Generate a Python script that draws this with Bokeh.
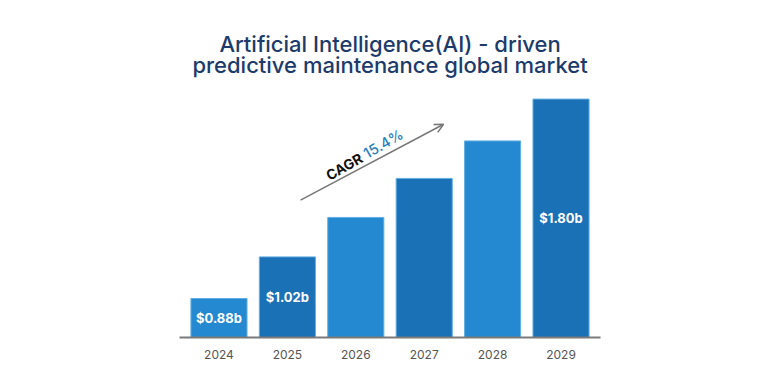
from bokeh.plotting import figure
from bokeh.models import Range1d, FixedTicker, Label, Arrow, OpenHead, ColumnDataSource
from bokeh.embed import file_html
from bokeh.resources import INLINE
from bokeh.core.properties import value
import math

# ---- data ----
years = ["2024", "2025", "2026", "2027", "2028", "2029"]
market = [0.88, 1.072, 1.254, 1.434, 1.607, 1.80]  # bar tops as drawn (USD b)
bar_labels = ["$0.88b", "$1.02b", "", "", "", "$1.80b"]
cagr_label = "CAGR"
cagr_value = "15.4%"
title_lines = ["Artificial Intelligence(AI) - driven", "predictive maintenance global market"]

# ---- styling ----
base = 0.70
light = "#2589d1"
dark = "#1a71b6"
colors = [light if i % 2 == 0 else dark for i in range(len(years))]
medium = "'Inter Medium', Inter"

p = figure(width=772, height=372, output_backend="svg", toolbar_location=None,
           x_range=Range1d(-0.577, 5.577), y_range=Range1d(base, 2.218),
           min_border_left=179, min_border_right=172, min_border_top=8, min_border_bottom=35,
           title=None)
p.outline_line_color = None
p.background_fill_color = "white"
p.border_fill_color = "white"
p.xgrid.visible = False
p.ygrid.visible = False
p.yaxis.visible = False

xs = list(range(len(years)))
src = ColumnDataSource(dict(x=xs, top=market, color=colors, lab=bar_labels,
                            mid=[(base + v) / 2 for v in market]))
p.vbar(x="x", top="top", bottom=base, width=0.82, fill_color="color",
       line_color="#62aee3", line_width=1, source=src)
p.text(x="x", y="mid", text="lab", source=src, text_color="white",
       text_font=value("Inter"), text_font_size="13px", text_font_style="bold",
       text_align="center", text_baseline="middle")

ax = p.xaxis[0]
ax.ticker = FixedTicker(ticks=xs)
ax.major_label_overrides = {i: y for i, y in enumerate(years)}
ax.major_tick_line_color = None
ax.minor_tick_line_color = None
ax.axis_line_color = "#7a7a7a"
ax.axis_line_width = 2
ax.major_label_text_font = "Inter"
ax.major_label_text_font_size = "12px"
ax.major_label_text_color = "#555555"
ax.major_label_standoff = 6

# title
for txt, yy in zip(title_lines, [2.056, 1.958]):
    p.add_layout(Label(x=2.5, y=yy, text=txt, text_align="center",
                       text_baseline="alphabetic", text_font=medium, text_font_size="22px",
                       text_color="#1c3b6b"))

# CAGR arrow
p.add_layout(Arrow(x_start=1.192, y_start=1.334, x_end=3.283, y_end=1.684,
                   line_color="#777777", line_width=1.5,
                   end=OpenHead(size=9, line_color="#777777", line_width=1.5)))
ang = math.radians(30)
jx, jy = 2.128, 1.545
p.add_layout(Label(x=jx - 0.05, y=jy - 0.010, text=cagr_label, angle=ang,
                   text_align="right", text_baseline="alphabetic", text_font="Inter",
                   text_font_style="bold", text_font_size="14px", text_color="#111111"))
p.add_layout(Label(x=jx, y=jy, text=cagr_value, angle=ang,
                   text_align="left", text_baseline="alphabetic", text_font=medium,
                   text_font_size="14.5px", text_color="#2a7fc1"))

open("out.html", "w").write(file_html(p, INLINE))
